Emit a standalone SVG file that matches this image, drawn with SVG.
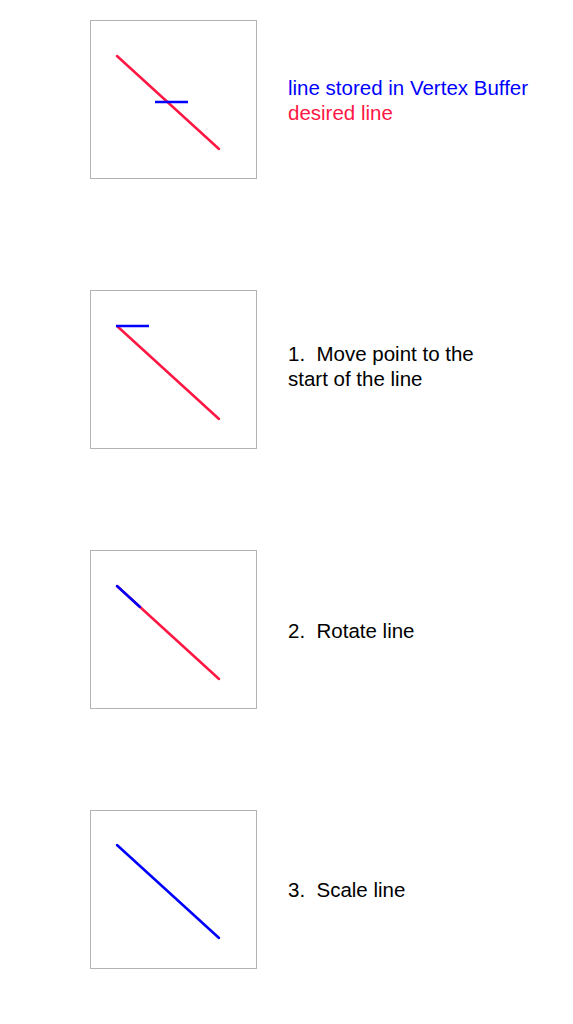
<svg xmlns="http://www.w3.org/2000/svg" width="573" height="1024" viewBox="0 0 573 1024">
<style>
.frame{fill:#fff;stroke:#b3b3b3;stroke-width:1}
.red{stroke:#ff1744;stroke-width:2.5;stroke-linecap:round;fill:none}
.blue{stroke:#0000ff;stroke-width:2.5;fill:none}
.blue-r{stroke:#0000ff;stroke-width:2.5;stroke-linecap:round;fill:none}
text{font-family:"Liberation Sans",Arial,sans-serif;font-size:20.5px;fill:#000;white-space:pre}
.tb{fill:#0000ff}
.tr{fill:#ff1744}
</style>
<rect width="573" height="1024" fill="#fff"/>
<g id="panel0">
<rect class="frame" x="90.5" y="20.5" width="166" height="158"/>
<line class="red" x1="117" y1="56" x2="219" y2="149"/>
<line class="blue" x1="155" y1="102" x2="188" y2="102"/>
<text x="288" y="95" class="tb">line stored in Vertex Buffer</text>
<text x="288" y="120" class="tr">desired line</text>
</g>
<g id="panel1">
<rect class="frame" x="90.5" y="290.5" width="166" height="158"/>
<line class="red" x1="117" y1="326" x2="219" y2="419"/>
<line class="blue" x1="116" y1="326" x2="149" y2="326"/>
<text x="288" y="361" xml:space="preserve">1.  Move point to the</text>
<text x="288" y="386">start of the line</text>
</g>
<g id="panel2">
<rect class="frame" x="90.5" y="550.5" width="166" height="158"/>
<line class="red" x1="117" y1="586" x2="219" y2="679"/>
<line class="blue-r" x1="117" y1="586" x2="140" y2="607"/>
<text x="288" y="638" xml:space="preserve">2.  Rotate line</text>
</g>
<g id="panel3">
<rect class="frame" x="90.5" y="810.5" width="166" height="158"/>
<line class="blue-r" x1="117" y1="845" x2="219" y2="938"/>
<text x="288" y="897" xml:space="preserve">3.  Scale line</text>
</g>
<g id="connectors"/>
</svg>
